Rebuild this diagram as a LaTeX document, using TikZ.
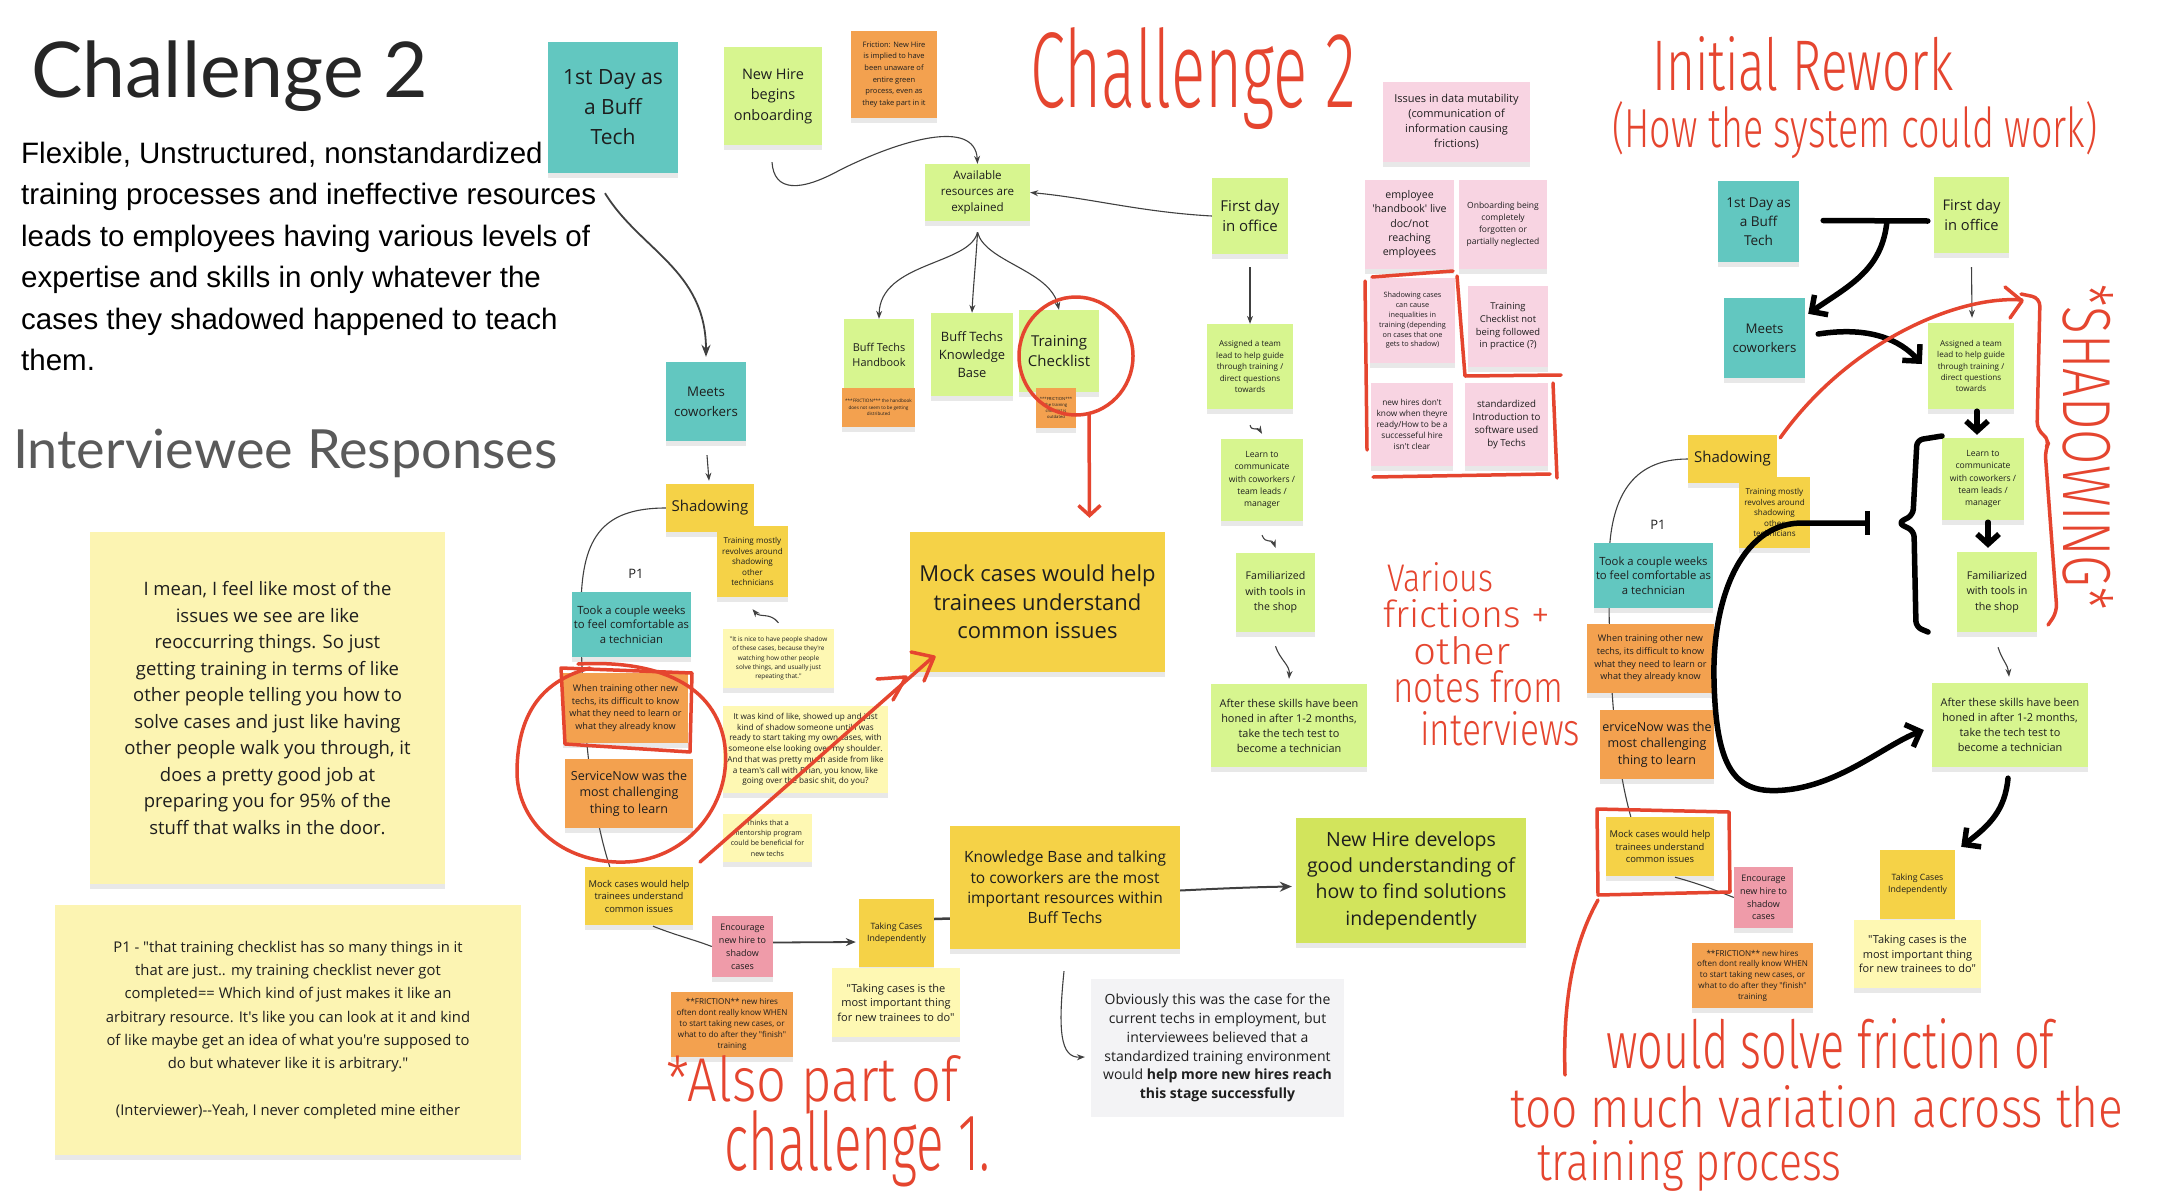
\documentclass[tikz,border=0pt]{standalone}
\usepackage{fontspec}
\usepackage{graphicx}
\usetikzlibrary{calc, arrows.meta, shadows, backgrounds}
\newfontfamily\notefont{Open Sans}
\newfontfamily\titlefont{Lato}
\newfontfamily\bodyfont{Liberation Sans}
\newfontfamily\handfont{Fira Sans Light}
\newcommand{\scrawl}[3]{\resizebox{#1pt}{#2pt}{\handfont #3}}
\definecolor{ink}{HTML}{1E1E1E}
\definecolor{tealnote}{HTML}{62C7C0}
\definecolor{greennote}{HTML}{D7F58F}
\definecolor{yellownote}{HTML}{F5D247}
\definecolor{creamnote}{HTML}{FEF8B3}
\definecolor{orangenote}{HTML}{F3A14F}
\definecolor{pinknote}{HTML}{F8D4E2}
\definecolor{rosenote}{HTML}{EF9BA9}
\definecolor{limenote}{HTML}{D2E45C}
\definecolor{graynote}{HTML}{F3F3F5}
\definecolor{quotenote}{HTML}{FCF4B2}
\definecolor{markred}{HTML}{E5452F}
\definecolor{titlegray}{HTML}{262626}
\definecolor{subgray}{HTML}{5A5A5A}

\begin{document}
\begin{tikzpicture}[x=1pt, y=-1pt, >=Stealth,
    flat/.style={rectangle, align=center, inner sep=1pt, text=ink},
    note/.style={flat, drop shadow={shadow xshift=0pt, shadow yshift=-5pt, opacity=0.18}},
    wh/.style 2 args={minimum width=#1pt, minimum height=#2pt},
    sz/.style 2 args={font=\notefont\fontsize{#1}{#2}\selectfont},
    link/.style={draw=ink!85, line width=1.1pt},
    redpen/.style={draw=markred, line width=3.5pt, line cap=round, line join=round},
    marker/.style={draw=black, line width=5.5pt, line cap=round, line join=round},
    scrawltext/.style={text=markred, inner sep=0pt, anchor=north west}]
\useasboundingbox (0,0) rectangle (2162,1202);

% left column text
\node[anchor=base west, inner sep=0pt, text=titlegray, font=\titlefont\fontsize{77}{80}\selectfont] (title) at (31,97) {Challenge 2};
\node[anchor=north west, inner sep=0pt, align=left, text=black, font=\bodyfont\fontsize{29.5}{41.4}\selectfont] (summary) at (21,142) {Flexible, Unstructured, nonstandardized\\training processes and ineffective resources\\leads to employees having various levels of\\expertise and skills in only whatever the\\cases they shadowed happened to teach\\them.};
\node[anchor=base west, inner sep=0pt, text=subgray, font=\titlefont\fontsize{54}{58}\selectfont] (responses) at (13,468) {Interviewee Responses};

\node[note, fill=quotenote, wh={355}{352}, sz={18.5}{26.5}] (quoteone) at (267.5,708) {I mean, I feel like most of the\\issues we see are like\\reoccurring things. So just\\getting training in terms of like\\other people telling you how to\\solve cases and just like having\\other people walk you through, it\\does a pretty good job at\\preparing you for 95\% of the\\stuff that walks in the door.};
\node[note, fill=quotenote, wh={466}{250}, sz={14.8}{23.3}] (quotetwo) at (288,1030) {P1 - "that training checklist has so many things in it\\that are just.. my training checklist never got\\completed== Which kind of just makes it like an\\arbitrary resource. It's like you can look at it and kind\\of like maybe get an idea of what you're supposed to\\do but whatever like it is arbitrary."\\[23.3pt](Interviewer)-{}-Yeah, I never completed mine either};

% challenge 2 flow
\node[note, fill=tealnote, wh={130}{131}, sz={21}{30}] (dayone) at (613,107.5) {1st Day as\\a Buff\\Tech};
\node[note, fill=greennote, wh={98}{98}, sz={14.5}{20.5}] (newhire) at (773,96) {New Hire\\begins\\onboarding};
\node[note, fill=orangenote, wh={86}{87}, sz={7.5}{11.6}] (fricgreen) at (894,74.5) {Friction: New Hire\\is implied to have\\been unaware of\\entire green\\process, even as\\they take part in it};
\node[note, fill=greennote, wh={105}{57}, sz={11.6}{16}] (avail) at (977.5,192.5) {Available\\resources are\\explained};
\node[note, fill=greennote, wh={70}{71}, sz={10.9}{15}] (handbook) at (879,354.5) {Buff Techs\\Handbook};
\node[note, fill=orangenote, wh={73}{39}, sz={4.6}{6.5}] (fricbook) at (878.5,407.5) {***FRICTION*** the handbook\\does not seem to be getting\\distributed};
\node[note, fill=greennote, wh={82}{83}, sz={12.9}{18}] (kbase) at (972,354.5) {Buff Techs\\Knowledge\\Base};
\node[note, fill=greennote, wh={80}{82}, sz={15}{20.7}] (checklist) at (1059,351) {Training\\Checklist};
\node[note, fill=orangenote, wh={40}{40}, sz={4.2}{6}] (fricchk) at (1056,408) {***FRICTION***\\the training\\checklist is\\outdated};
\node[note, fill=tealnote, wh={80}{79}, sz={13.3}{19.7}] (meets) at (706,401.5) {Meets\\coworkers};
\node[note, fill=yellownote, wh={88}{48}, sz={15}{20}] (shadow) at (710,508) {Shadowing};
\node[note, fill=yellownote, wh={71}{71}, sz={8.1}{10.5}] (trainmost) at (752.5,561.5) {Training mostly\\revolves around\\shadowing\\other\\technicians};
\node[inner sep=0pt, text=ink, sz={13}{15}] (pone) at (636,574) {P1};
\node[note, fill=tealnote, wh={119}{65}, sz={11.3}{14.3}] (took) at (631.5,624.5) {Took a couple weeks\\to feel comfortable as\\a technician};
\node[note, fill=orangenote, wh={125}{70}, sz={9.1}{12.7}] (whentrain) at (625.5,708) {When training other new\\techs, its difficult to know\\what they need to learn or\\what they already know};
\node[note, fill=orangenote, wh={128}{69}, sz={12.5}{16.7}] (service) at (629,793.5) {ServiceNow was the\\most challenging\\thing to learn};
\node[note, fill=creamnote, wh={111}{59}, sz={6.4}{9.3}] (nice) at (778.5,658.5) {"It is nice to have people shadow\\of these cases, because they're\\watching how other people\\solve things, and usually just\\repeating that."};
\node[note, fill=creamnote, wh={165}{87}, sz={8.2}{10.7}] (kindof) at (805.5,749.5) {It was kind of like, showed up and just\\kind of shadow someone until I was\\ready to start taking my own cases, with\\someone else looking over my shoulder.\\And that was pretty much aside from like\\a team's call with Brian, you know, like\\going over the basic shit, do you?};
\node[note, fill=creamnote, wh={89}{48}, sz={7.1}{10.3}] (mentor) at (767.5,838) {Thinks that a\\mentorship program\\could be beneficial for\\new techs};
\node[note, fill=yellownote, wh={108}{58}, sz={9.4}{12.5}] (mocksmall) at (639,896) {Mock cases would help\\trainees understand\\common issues};
\node[note, fill=rosenote, wh={61}{61}, sz={9}{12.9}] (encourage) at (742.5,946.5) {Encourage\\new hire to\\shadow\\cases};
\node[note, fill=orangenote, wh={122}{65}, sz={8.1}{11}] (fricwhen) at (732,1024.5) {**FRICTION** new hires\\often dont really know WHEN\\to start taking new cases, or\\what to do after they "finish"\\training};
\node[note, fill=yellownote, wh={75}{68}, sz={8.7}{12.3}] (taking) at (896.5,933) {Taking Cases\\Independently};
\node[note, fill=creamnote, wh={128}{69}, sz={11}{14.6}] (takingquote) at (896,1002.5) {"Taking cases is the\\most important thing\\for new trainees to do"};
\node[note, fill=yellownote, wh={230}{123}, sz={15.5}{20.3}] (kbbig) at (1065,887.5) {Knowledge Base and talking\\to coworkers are the most\\important resources within\\Buff Techs};
\node[note, fill=yellownote, wh={255}{140}, sz={22}{28.3}] (mockbig) at (1037.5,602) {Mock cases would help\\trainees understand\\common issues};
\node[note, fill=limenote, wh={230}{125}, sz={19.5}{26.3}] (newdev) at (1411,880.5) {New Hire develops\\good understanding of\\how to find solutions\\independently};
\node[flat, fill=graynote, wh={253}{138}, sz={14}{18.8}] (obvious) at (1217.5,1048) {Obviously this was the case for the\\current techs in employment, but\\interviewees believed that a\\standardized training environment\\would \textbf{help more new hires reach}\\\textbf{this stage successfully}};

\node[note, fill=greennote, wh={76}{76}, sz={15}{19.8}] (firstday) at (1250,216) {First day\\in office};
\node[note, fill=greennote, wh={86}{85}, sz={8.1}{11.5}] (assigned) at (1250,366.5) {Assigned a team\\lead to help guide\\through training /\\direct questions\\towards};
\node[note, fill=greennote, wh={82}{82}, sz={8.6}{12.4}] (learn) at (1262,480) {Learn to\\communicate\\with coworkers /\\team leads /\\manager};
\node[note, fill=greennote, wh={79}{79}, sz={10.6}{15.6}] (familiar) at (1275.5,592.5) {Familiarized\\with tools in\\the shop};
\node[note, fill=greennote, wh={156}{83}, sz={10.9}{15}] (after) at (1289,725.5) {After these skills have been\\honed in after 1-2 months,\\take the tech test to\\become a technician};

% frictions
\node[note, fill=pinknote, wh={147}{80}, sz={11}{15}] (issues) at (1456.5,122) {Issues in data mutability\\(communication of\\information causing\\frictions)};
\node[note, fill=pinknote, wh={89}{89}, sz={10.6}{14.3}] (hbklive) at (1409.5,224.5) {employee\\'handbook' live\\doc/not\\reaching\\employees};
\node[note, fill=pinknote, wh={88}{89}, sz={8.5}{11.9}] (onboard) at (1503,224.5) {Onboarding being\\completely\\forgotten or\\partially neglected};
\node[note, fill=pinknote, wh={85}{85}, sz={7.3}{9.8}] (shadcases) at (1412.5,320.5) {Shadowing cases\\can cause\\inequalities in\\training (depending\\on cases that one\\gets to shadow)};
\node[note, fill=pinknote, wh={80}{81}, sz={9.4}{12.7}] (chknot) at (1508,326.5) {Training\\Checklist not\\being followed\\in practice (?)};
\node[note, fill=pinknote, wh={82}{83}, sz={8.3}{11}] (newdont) at (1412,424.5) {new hires don't\\know when theyre\\ready/How to be a\\successeful hire\\isn't clear};
\node[note, fill=pinknote, wh={83}{83}, sz={9.7}{13.3}] (stdintro) at (1506.5,424.5) {standardized\\Introduction to\\software used\\by Techs};

% initial rework
\node[note, fill=tealnote, wh={81}{81}, sz={13.6}{18.8}] (rdayone) at (1758.5,221.5) {1st Day as\\a Buff\\Tech};
\node[note, fill=greennote, wh={75}{76}, sz={14.7}{20.7}] (rfirstday) at (1971.5,215) {First day\\in office};
\node[note, fill=tealnote, wh={81}{80}, sz={13.3}{19}] (rmeets) at (1764.5,338) {Meets\\coworkers};
\node[note, fill=greennote, wh={86}{86}, sz={8.1}{11.4}] (rassigned) at (1971,366) {Assigned a team\\lead to help guide\\through training /\\direct questions\\towards};
\node[note, fill=greennote, wh={82}{82}, sz={8.6}{12.2}] (rlearn) at (1983,479) {Learn to\\communicate\\with coworkers /\\team leads /\\manager};
\node[note, fill=greennote, wh={80}{80}, sz={10.7}{15.3}] (rfamiliar) at (1997,592) {Familiarized\\with tools in\\the shop};
\node[note, fill=yellownote, wh={89}{48}, sz={15}{20}] (rshadow) at (1732.5,459) {Shadowing};
\node[note, fill=yellownote, wh={71}{71}, sz={8.1}{10.5}] (rtrainmost) at (1774.5,512.5) {Training mostly\\revolves around\\shadowing\\other\\technicians};
\node[inner sep=0pt, text=ink, sz={13}{15}] (rpone) at (1658,525) {P1};
\node[note, fill=tealnote, wh={119}{65}, sz={11.3}{14.3}] (rtook) at (1653.5,575.5) {Took a couple weeks\\to feel comfortable as\\a technician};
\node[note, fill=orangenote, wh={127}{69}, sz={9.1}{12.7}] (rwhen) at (1650.5,658.5) {When training other new\\techs, its difficult to know\\what they need to learn or\\what they already know};
\node[note, fill=orangenote, wh={114}{69}, sz={12.5}{16.3}] (rservice) at (1657,744.5) {erviceNow was the\\most challenging\\thing to learn};
\node[note, fill=yellownote, wh={108}{59}, sz={9.4}{12.5}] (rmock) at (1660,846.5) {Mock cases would help\\trainees understand\\common issues};
\node[note, fill=rosenote, wh={59}{61}, sz={9}{12.8}] (rencourage) at (1763.5,897.5) {Encourage\\new hire to\\shadow\\cases};
\node[note, fill=orangenote, wh={121}{65}, sz={8.1}{10.8}] (rfriction) at (1752.5,975.5) {**FRICTION** new hires\\often dont really know WHEN\\to start taking new cases, or\\what to do after they "finish"\\training};
\node[note, fill=yellownote, wh={75}{69}, sz={8.7}{12.3}] (rtaking) at (1917.5,884.5) {Taking Cases\\Independently};
\node[note, fill=creamnote, wh={127}{68}, sz={11}{14.7}] (rtakingquote) at (1917.5,954) {"Taking cases is the\\most important thing\\for new trainees to do"};
\node[note, fill=greennote, wh={156}{84}, sz={10.9}{15.2}] (rafter) at (2010,725) {After these skills have been\\honed in after 1-2 months,\\take the tech test to\\become a technician};

% lines that pass behind the notes
\begin{scope}[on background layer]
\fill[white] (0,0) rectangle (2162,1202);
\draw[link] (shadow.west) .. controls (600,508) and (581,540) .. (581,610) .. controls (581,700) and (588,800) .. ($(mocksmall.north west)+(25,0)$);
\draw[link] (rshadow.west) .. controls (1630,459) and (1610,500) .. (1609,560) .. controls (1608,680) and (1615,760) .. ($(rmock.north west)+(25,0)$);
\end{scope}

% connectors
\draw[link, line width=1.8pt, -{Stealth[length=12pt,width=9pt]}] ($(dayone.south)+(-8,20)$) .. controls (640,250) and (706,270) .. ($(meets.north)+(0,-5)$);
\draw[link, ->] ($(meets.south)+(1,14)$) -- ($(shadow.north)+(-1,-3)$);
\draw[link, ->] ($(newhire.south)+(-1,17)$) .. controls (774,192) and (800,192) .. (840,170) .. controls (900,140) and (975,118) .. (avail.north);
\draw[link, ->] (firstday.west) .. controls (1140,212) and (1090,198) .. (avail.east);
\draw[link, ->] ($(avail.south)+(0,11)$) .. controls (970,265) and (880,262) .. (handbook.north);
\draw[link, ->] ($(avail.south)+(0,11)$) .. controls (976,260) and (973,290) .. (kbase.north);
\draw[link, ->] ($(avail.south)+(0,11)$) .. controls (985,262) and (1050,270) .. (checklist.north);
\draw[link, ->] ($(nice.north)+(0,-6)$) .. controls (770,612) and (760,618) .. ($(trainmost.south)+(0,12)$);
\draw[link] ($(mocksmall.south)+(14,1)$) .. controls (675,935) and (695,940) .. (encourage.west);
\draw[link, line width=1.8pt, -{Stealth[length=10pt,width=8pt]}] ($(encourage.east)+(0,-4)$) -- ($(taking.west)+(-3,9)$);
\draw[link, line width=2.5pt] ($(taking.east)+(0,-14)$) -- ($(kbbig.west)+(0,31)$);
\draw[link, line width=2pt, -{Stealth[length=12pt,width=10pt]}] ($(kbbig.east)+(0,3)$) .. controls (1230,888) and (1260,887) .. ($(newdev.west)+(-4,6)$);
\draw[link, ->] ($(kbbig.south)+(-1,22)$) .. controls (1058,1030) and (1060,1058) .. ($(obvious.west)+(-6,9)$);
\draw[link, ->] ($(firstday.south)+(0,13)$) -- (assigned.north);
\draw[link, ->] ($(assigned.south)+(0,16)$) .. controls (1252,432) and (1258,427) .. ($(learn.north)+(0,-5)$);
\draw[link, ->] ($(learn.south)+(0,14)$) .. controls (1266,545) and (1272,538) .. ($(familiar.north)+(0,-5)$);
\draw[link, ->] ($(familiar.south)+(0,14)$) .. controls (1280,660) and (1290,665) .. ($(after.north)+(0,-5)$);
\draw[link, ->] ($(rfirstday.south)+(0,14)$) -- ($(rassigned.north)+(1,-5)$);
\draw[link, ->] ($(rfamiliar.south)+(1,15)$) .. controls (2002,660) and (2008,665) .. ($(rafter.north)+(-1,-6)$);
\draw[link] ($(rmock.south)+(15,1)$) .. controls (1700,884) and (1715,890) .. (rencourage.west);

% black marker strokes
\coordinate (tjoint) at (1887,221);
\coordinate (barcap) at (1870,523);
\draw[marker] ($(rdayone.east)+(24,-1)$) -- ($(rfirstday.west)+(-6,6)$);
\draw[marker, -{Straight Barb[length=12pt,width=24pt]}] (tjoint) .. controls (1882,270) and (1850,285) .. ($(rmeets.north east)+(3,16)$);
\draw[marker, -{Straight Barb[length=12pt,width=24pt]}] ($(rmeets.east)+(13,-4)$) .. controls (1870,326) and (1900,340) .. ($(rassigned.west)+(-6,-2)$);
\draw[marker, -{Straight Barb[length=10pt,width=22pt]}] ($(rassigned.south)+(6,2)$) -- ($(rlearn.north)+(-6,-3)$);
\draw[marker, -{Straight Barb[length=10pt,width=22pt]}] ($(rlearn.south)+(5,2)$) -- ($(rfamiliar.north)+(-9,-4)$);
\draw[marker, rounded corners=6pt] (1942,436) -- (1917,440) -- (1913,515) -- (1898,523) -- (1914,531) -- (1916,627) -- (1928,632);
\draw[marker, {Bar[width=24pt]}-{Straight Barb[length=12pt,width=24pt]}] (barcap) -- (1800,523) .. controls (1740,525) and (1712,600) .. (1714,680) .. controls (1716,770) and (1735,795) .. (1785,790) .. controls (1840,785) and (1885,745) .. ($(rafter.west)+(-8,5)$);
\draw[marker, -{Straight Barb[length=12pt,width=24pt]}] ($(rafter.south)+(-2,11)$) .. controls (2005,810) and (1990,825) .. ($(rtaking.north east)+(6,-3)$);

% red marks
\draw[redpen] (1076,356) ellipse [x radius=57, y radius=59];
\draw[redpen, -{Straight Barb[length=10pt,width=22pt]}] (1089,414) -- ($(mockbig.north)+(52,-14)$);
\draw[redpen] (561,668) -- (692,673) -- (690,752) -- (612,747) -- (565,744) -- cycle;
\draw[redpen] (578,664) .. controls (650,660) and (712,680) .. (724,740) .. controls (735,800) and (690,860) .. (625,862) .. controls (560,864) and (516,820) .. (517,770) .. controls (518,710) and (545,680) .. (590,668);
\draw[redpen] (700,862) -- ($(mockbig.south west)+(23,-15)$);
\draw[redpen] (911,652) -- (934,657) -- (924,681);
\draw[redpen] (877,679) -- (906,677) -- (893,700);
\draw[redpen] (1372,277) -- (1453,271);
\draw[redpen] (1365,281) -- (1367,450);
\draw[redpen] (1457,276) -- (1465,376) -- (1561,375);
\draw[redpen] (1553,383) -- (1557,478);
\draw[redpen] (1373,477) -- (1550,474);
\draw[redpen] ($(rshadow.north east)+(3,3)$) .. controls (1850,340) and (1960,295) .. (2022,300);
\draw[redpen] (2005,287) -- (2022,301) -- (2010,318);
\draw[redpen, rounded corners=8pt] (2021,294) -- (2040,298) -- (2037,430) -- (2050,440) -- (2045,450) -- (2057,612) -- (2048,625);
\draw[redpen] (1597,809) -- (1729,812) -- (1730,892) -- (1598,895) -- cycle;
\draw[redpen] (1598,900) .. controls (1570,950) and (1563,1010) .. (1565,1075);

% handwriting
\node[scrawltext] (hwtitle) at (1030,27) {\scrawl{326}{80}{Challenge 2}};
\node[scrawltext] (hwrework) at (1652,36) {\scrawl{301}{54}{Initial Rework}};
\node[scrawltext] (hwhow) at (1612,101) {\scrawl{485}{46}{(How the system could work)}};
\node[scrawltext] (hwvarious) at (1387,562) {\scrawl{106}{29}{Various}};
\node[scrawltext] (hwfrictions) at (1383,599) {\scrawl{167}{28}{frictions +}};
\node[scrawltext] (hwother) at (1413,636) {\scrawl{97}{28}{other}};
\node[scrawltext] (hwnotes) at (1393,670) {\scrawl{170}{32}{notes from}};
\node[scrawltext] (hwinterviews) at (1420,711) {\scrawl{160}{34}{interviews}};
\node[scrawltext] (hwalso) at (666,1055) {\scrawl{292}{46}{*Also part of}};
\node[scrawltext] (hwchallenge) at (724,1110) {\scrawl{266}{60}{challenge 1.}};
\node[scrawltext] (hwsolve) at (1606,1018) {\scrawl{448}{50}{would solve friction of}};
\node[scrawltext] (hwvariation) at (1510,1085) {\scrawl{613}{42}{too much variation across the}};
\node[scrawltext] (hwprocess) at (1537,1140) {\scrawl{304}{40}{training process}};
\node[text=markred, inner sep=0pt, rotate=-90] (hwshadowing) at (2088,447) {\scrawl{325}{50}{*SHADOWING*}};

\end{tikzpicture}
\end{document}
